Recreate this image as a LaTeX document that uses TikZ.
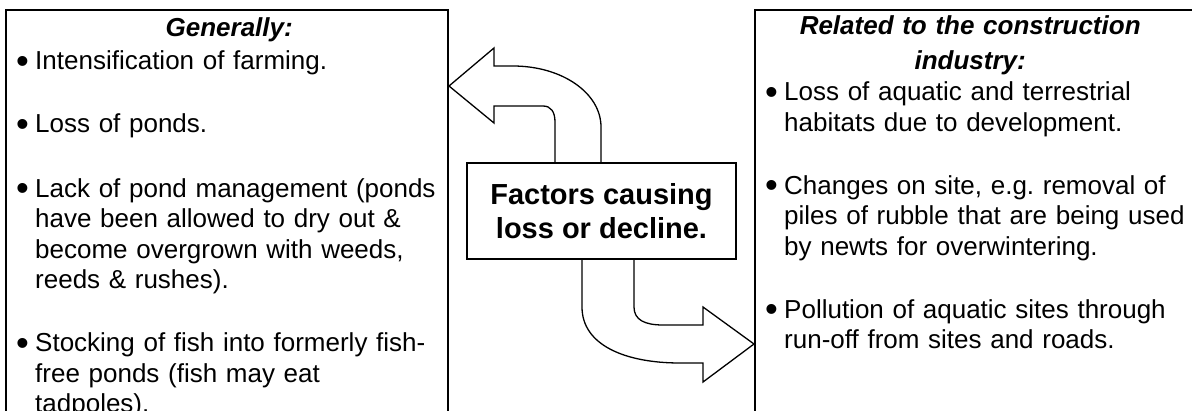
\documentclass[tikz,border=0pt]{standalone}
\usepackage{graphicx}
\usepackage{fontspec}
\setmainfont{Liberation Sans}

% one bullet point with a hanging indent
\newcommand{\bpoint}[1]{\par\hangindent=20pt\hangafter=1\noindent
  \makebox[20pt][l]{\hspace{1pt}\raisebox{-3.5pt}{\scalebox{1.4}{\textbullet}}}#1\par}

\tikzset{
  panel/.style={draw, line width=1.3pt, inner sep=0pt, outer sep=0pt, anchor=north west},
  listtext/.style={inner sep=0pt, anchor=north west,
    font=\fontsize{26}{30.5}\selectfont},
  factorbox/.style={draw, fill=white, line width=1.3pt, align=center,
    font=\fontsize{29}{34}\selectfont\bfseries},
  blockarrow/.style={draw, fill=white, line width=1.3pt, line join=miter}
}

\begin{document}
\begin{tikzpicture}[x=1pt, y=-1pt]
    \useasboundingbox (0,0) rectangle (1192,410);
    \clip (0,0) rectangle (1192,410);
    %% Draw the two panels
    \node[panel, minimum width=442pt, minimum height=460pt] (general) at (6,10) {};
    \node[panel, minimum width=500pt, minimum height=460pt] (construction) at (755,10) {};
    %% Fill in the panels
    \node[listtext, text width=428pt] (generaltext) at (15,15) {%
      {\centering\bfseries\itshape\strut Generally:\par}\vspace{2.5pt}
      \bpoint{Intensification of farming.}\vspace{32.5pt}
      \bpoint{Loss of ponds.}\vspace{34pt}
      \bpoint{Lack of pond management (ponds\newline have been allowed to dry out \&\newline become overgrown with weeds,\newline reeds \& rushes).}\vspace{32.5pt}
      \bpoint{Stocking of fish into formerly fish-\newline free ponds (fish may eat\newline tadpoles).}};
    \node[listtext, text width=426pt] (constructiontext) at (764,13) {%
      {\centering\bfseries\itshape\strut\hspace*{-14pt}Related to the construction\\[4pt]\hspace*{-14pt}industry:\par}\vspace{1pt}
      \bpoint{Loss of aquatic and terrestrial\newline habitats due to development.}\vspace{32.5pt}
      \bpoint{Changes on site, e.g.\ removal of\newline piles of rubble that are being used\newline by newts for overwintering.}\vspace{32.5pt}
      \bpoint{Pollution of aquatic sites through\newline run-off from sites and roads.}};
    %% Draw the block arrows
    \begin{scope}[every path/.style={blockarrow}]
      \draw (555,163) -- (555,122) .. controls (555,112) and (551,106) .. (543,106)
        -- (494,106) -- (494,123) -- (449,86) -- (494,48) -- (494,66) -- (513,66)
        .. controls (562,66) and (601,93) .. (601,127) -- (601,163) -- cycle;
      \draw (582,259) -- (582,307) .. controls (582,345) and (625,363) .. (680,363)
        -- (703,363) -- (703,382) -- (754,344) -- (703,307) -- (703,325) -- (663,325)
        .. controls (645,325) and (634,320) .. (634,307) -- (634,259) -- cycle;
    \end{scope}
    %% Draw the centre box
    \node[factorbox, minimum width=269pt, minimum height=96pt] (factors) at (601.5,211)
      {Factors causing\\loss or decline.};
\end{tikzpicture}
\end{document}
